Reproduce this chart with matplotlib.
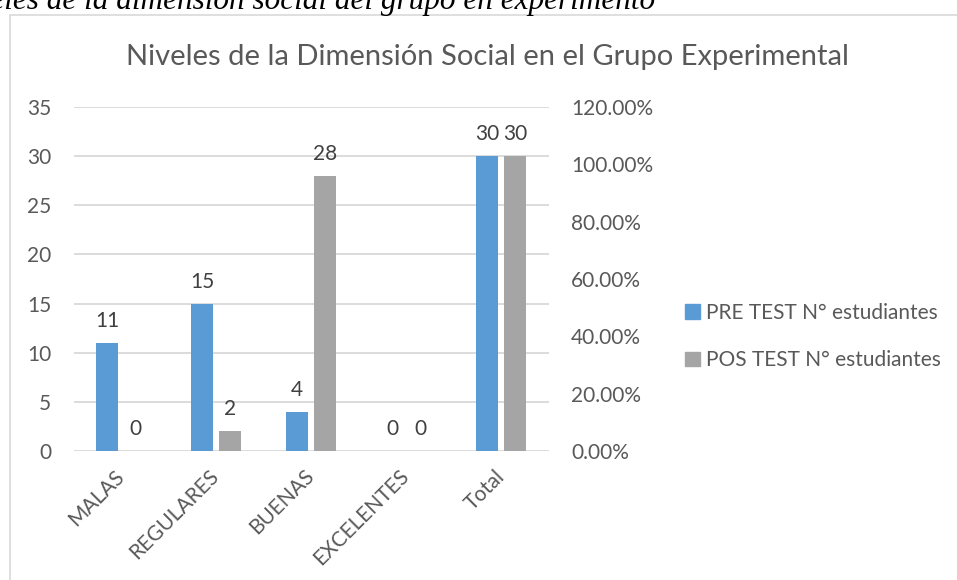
import matplotlib
matplotlib.use('Agg')
import matplotlib.pyplot as plt
from matplotlib.patches import Rectangle, Patch
from matplotlib.transforms import ScaledTranslation
import numpy as np

# ---- data ----
categories = ['MALAS', 'REGULARES', 'BUENAS', 'EXCELENTES', 'Total']
pre_test = [11, 15, 4, 0, 30]
pos_test = [0, 2, 28, 0, 30]
series_names = ['PRE TEST N° estudiantes', 'POS TEST N° estudiantes']
left_ticks = [0, 5, 10, 15, 20, 25, 30, 35]
right_ticks = [0.0, 0.2, 0.4, 0.6, 0.8, 1.0, 1.2]
right_tick_labels = ['0.00%', '20.00%', '40.00%', '60.00%', '80.00%', '100.00%', '120.00%']
chart_title = 'Niveles de la Dimensión Social en el Grupo Experimental'
caption = 'Niveles de la dimensión social del grupo en experimento'

# ---- style ----
BLUE = '#5B9BD5'
GRAY = '#A5A5A5'
TXT = '#595959'
GRID = '#D9D9D9'
FONT = ['Lato', 'DejaVu Sans']
FS = 15

plt.rcParams['font.family'] = FONT

W, H = 957, 580
fig = plt.figure(figsize=(W / 100, H / 100), dpi=100)
fig.patch.set_facecolor('white')

# chart frame (extends past right and bottom edges)
fig.patches.append(Rectangle((9.5 / W, -0.2), 2.0, (1 - 14.5 / H) + 0.2,
                             transform=fig.transFigure, fill=False,
                             ec=GRID, lw=1.2))

# caption (cropped at top/left in the reference)
fig.text(655 / W, 1 - 8.5 / H, caption, family=['Liberation Serif', 'DejaVu Serif'],
         style='italic', fontsize=22.5, color='black', ha='right', va='baseline')

# main axes
ax = fig.add_axes([73.5 / W, 129 / H, 475.5 / W, 344 / H])
x = np.arange(len(categories))
bw = 0.231
off = 0.147
b1 = ax.bar(x - off, pre_test, bw, color=BLUE, label=series_names[0], zorder=3)
b2 = ax.bar(x + off, pos_test, bw, color=GRAY, label=series_names[1], zorder=3)
ax.set_xlim(-0.5, len(categories) - 0.5)
ax.set_ylim(0, 35)
ax.set_yticks(left_ticks)
ax.set_yticklabels([str(t) for t in left_ticks])
ax.grid(axis='y', color=GRID, lw=1.3, zorder=0)
ax.set_axisbelow(True)
for s in ax.spines.values():
    s.set_visible(False)
ax.tick_params(axis='y', length=0, pad=16, labelsize=FS, labelcolor=TXT)
ax.set_xticks([])

# rotated category labels
xt = ax.get_xaxis_transform() + ScaledTranslation(7 / 100, -15 / 100, fig.dpi_scale_trans)
for xi, c in zip(x, categories):
    ax.text(xi, 0, c, transform=xt, rotation=45, ha='right', va='top',
            fontsize=FS, color=TXT)

# data labels
for bars, vals in ((b1, pre_test), (b2, pos_test)):
    for r, v in zip(bars, vals):
        ax.annotate(str(v), (r.get_x() + r.get_width() / 2, v),
                    xytext=(0, 11.5), textcoords='offset points',
                    ha='center', va='baseline', fontsize=FS, color='#404040')

# secondary axis
ax2 = ax.twinx()
ax2.set_ylim(0, 1.2)
ax2.set_yticks(right_ticks)
ax2.set_yticklabels(right_tick_labels)
for s in ax2.spines.values():
    s.set_visible(False)
ax2.tick_params(axis='y', length=0, pad=16, labelsize=FS, labelcolor=TXT)

# title
fig.text(487.5 / W, 1 - 57 / H, chart_title, fontsize=21, color=TXT,
         ha='center', va='center')

# legend
handles = [Patch(color=BLUE), Patch(color=GRAY)]
fig.legend(handles, series_names, loc='upper left',
           bbox_to_anchor=(685 / W, 1 - 303 / H), frameon=False,
           fontsize=FS, labelcolor=TXT, handlelength=0.7, handleheight=0.7,
           handletextpad=0.3, labelspacing=1.3, borderpad=0, borderaxespad=0)

fig.savefig('out.png', dpi=100, facecolor='white')
